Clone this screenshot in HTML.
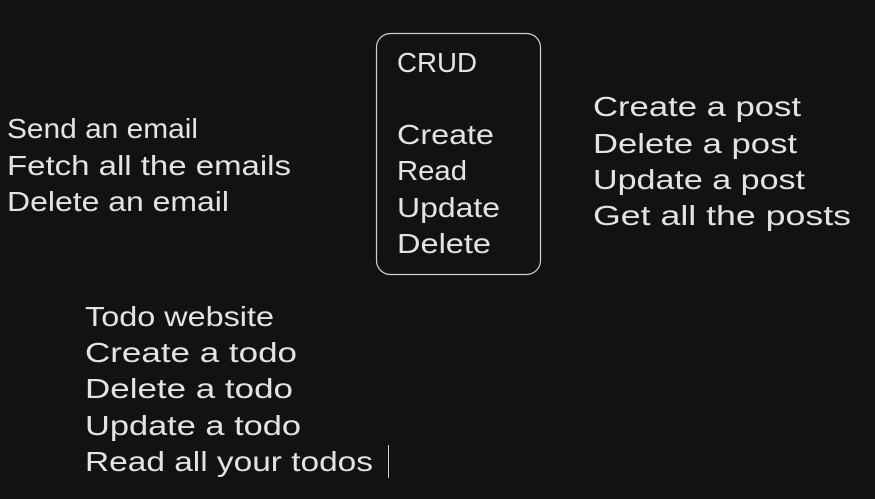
<!DOCTYPE html>
<html><head><style>
html,body{margin:0;padding:0;background:#121212;}
svg{display:block}
text{font-family:"Liberation Sans",sans-serif;font-size:28px;fill:#e3e3e3;}
</style></head><body>
<svg width="875" height="499" viewBox="0 0 875 499">
<rect x="0" y="0" width="875" height="499" fill="#121212"/>
<rect x="376.5" y="33.5" width="164" height="241" rx="14" fill="none" stroke="#d0d0d0" stroke-width="1.2"/>
<text x="397" y="72" textLength="80" lengthAdjust="spacingAndGlyphs">CRUD</text>
<text x="397" y="144" textLength="97" lengthAdjust="spacingAndGlyphs">Create</text>
<text x="397" y="180" textLength="70" lengthAdjust="spacingAndGlyphs">Read</text>
<text x="397" y="217" textLength="103" lengthAdjust="spacingAndGlyphs">Update</text>
<text x="397" y="253" textLength="94" lengthAdjust="spacingAndGlyphs">Delete</text>

<text x="7" y="138" textLength="191" lengthAdjust="spacingAndGlyphs">Send an email</text>
<text x="7" y="175" textLength="284" lengthAdjust="spacingAndGlyphs">Fetch all the emails</text>
<text x="7" y="211" textLength="222" lengthAdjust="spacingAndGlyphs">Delete an email</text>

<text x="593" y="116" textLength="208" lengthAdjust="spacingAndGlyphs">Create a post</text>
<text x="593" y="153" textLength="204" lengthAdjust="spacingAndGlyphs">Delete a post</text>
<text x="593" y="189" textLength="212" lengthAdjust="spacingAndGlyphs">Update a post</text>
<text x="593" y="225" textLength="258" lengthAdjust="spacingAndGlyphs">Get all the posts</text>

<text x="85" y="326" textLength="189" lengthAdjust="spacingAndGlyphs">Todo website</text>
<text x="85" y="362" textLength="212" lengthAdjust="spacingAndGlyphs">Create a todo</text>
<text x="85" y="398" textLength="208" lengthAdjust="spacingAndGlyphs">Delete a todo</text>
<text x="85" y="435" textLength="216" lengthAdjust="spacingAndGlyphs">Update a todo</text>
<text x="85" y="471" textLength="288" lengthAdjust="spacingAndGlyphs">Read all your todos</text>
<line x1="388.5" y1="445" x2="388.5" y2="478" stroke="#cfcfcf" stroke-width="1"/>
</svg>
</body></html>
